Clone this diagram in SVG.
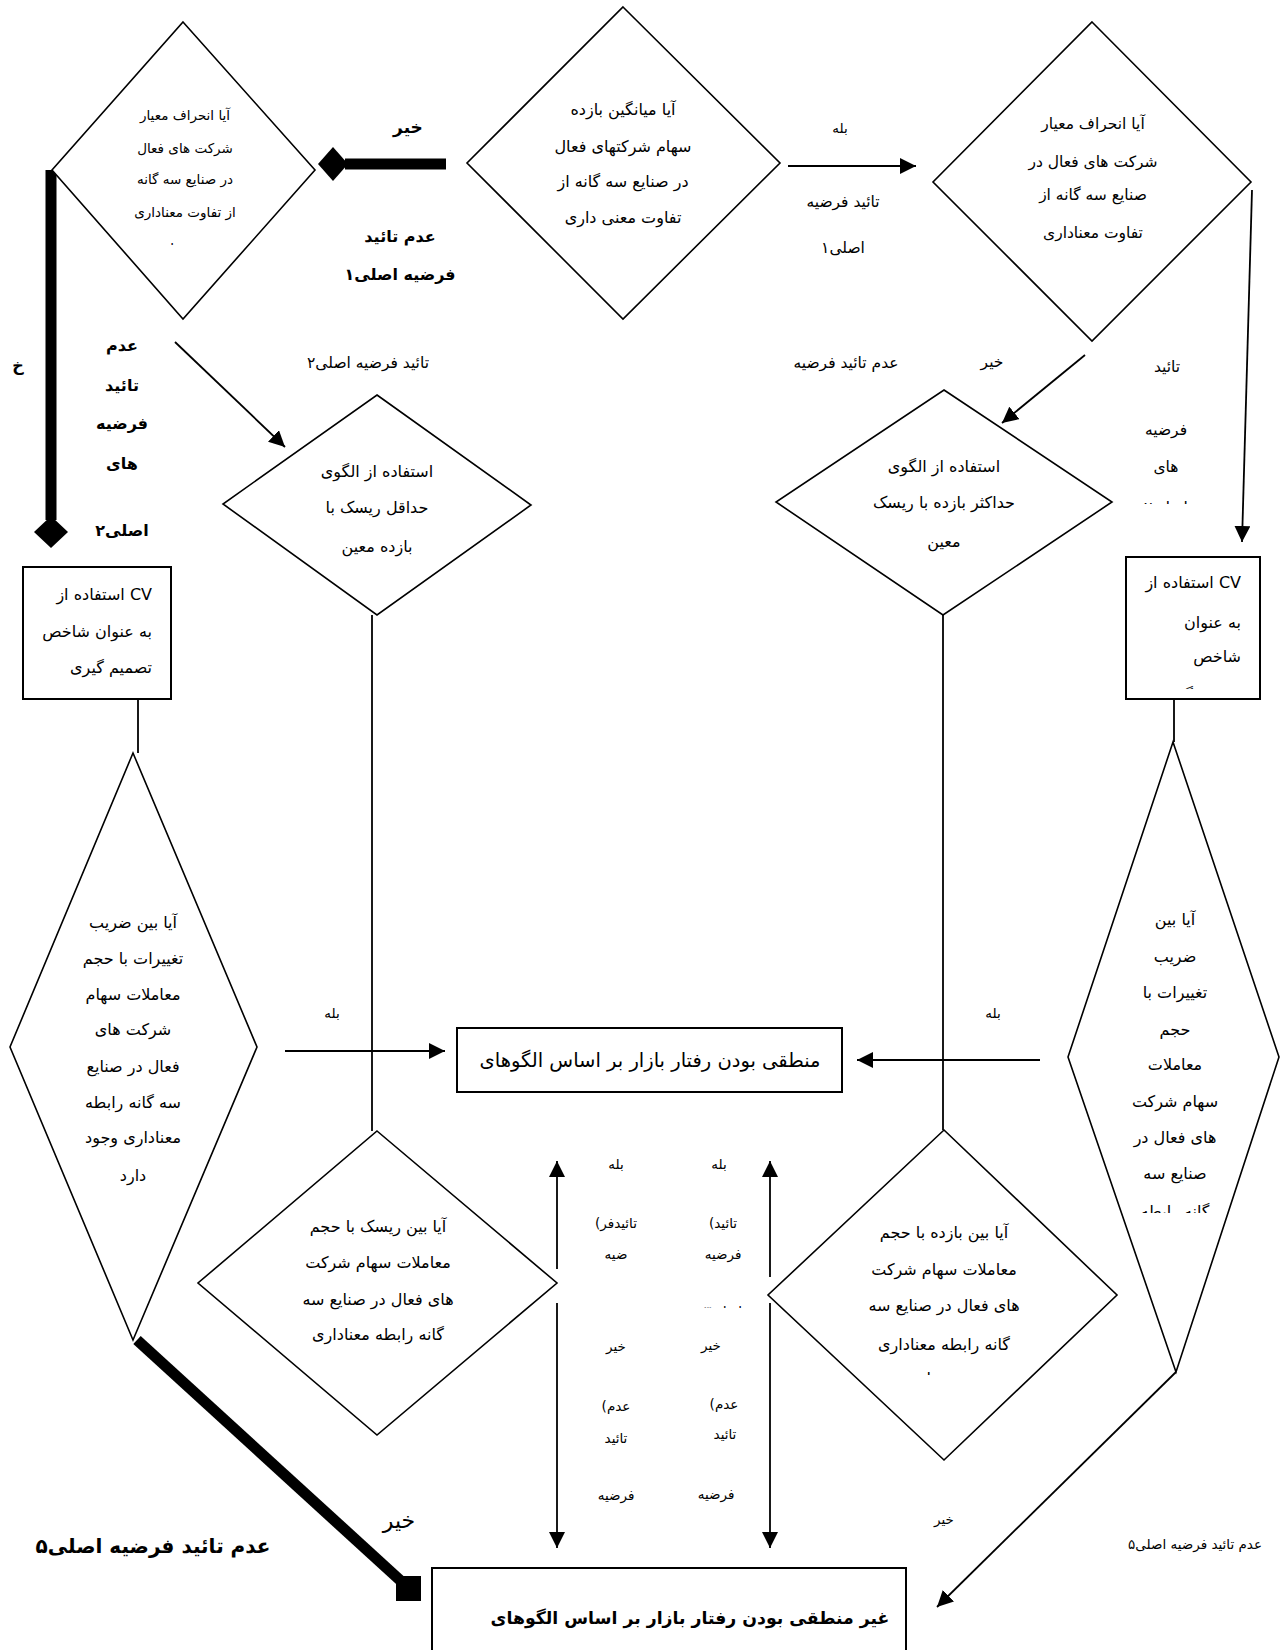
<svg xmlns="http://www.w3.org/2000/svg" width="1281" height="1650" viewBox="0 0 1281 1650">
<style>
.sh{fill:#fff;stroke:#000;stroke-width:1.6}
.bx{fill:#fff;stroke:#000;stroke-width:2}
.ln{fill:none;stroke:#000;stroke-width:1.8}
.ar{fill:none;stroke:#000;stroke-width:1.8;marker-end:url(#ah)}
.th{fill:none;stroke:#000;stroke-width:11}
text{font-family:"DejaVu Sans",sans-serif;font-size:15.5px;text-anchor:middle;fill:#000}
.d{font-size:16px}
.sm{font-size:13.5px}
.xs{font-size:13.5px}
.b{font-weight:bold;font-size:16px}
.r{text-anchor:end}
</style>
<defs>
<marker id="ah" markerUnits="userSpaceOnUse" markerWidth="17" markerHeight="16" refX="16" refY="8" orient="auto"><path d="M0,0 L16,8 L0,16 z" fill="#000"/></marker>
<clipPath id="c1"><rect x="100" y="225" width="170" height="20"/></clipPath>
<clipPath id="c2"><rect x="1120" y="485" width="100" height="19"/></clipPath>
<clipPath id="c3"><rect x="1128" y="670" width="130" height="19"/></clipPath>
<clipPath id="c4"><rect x="1100" y="1195" width="150" height="18"/></clipPath>
<clipPath id="c5"><rect x="860" y="1360" width="170" height="15"/></clipPath>
<clipPath id="c6"><rect x="680" y="1296" width="90" height="12"/></clipPath>
</defs>

<g id="connectors">
<path class="th" d="M446,164 L345,164"/>
<polygon points="318,164 333,147 348,164 333,181" fill="#000"/>
<path class="th" d="M51,170 L51,520"/>
<polygon points="34,532 51,516 68,532 51,548" fill="#000"/>
<path class="ar" d="M788,166 L916,166"/>
<path class="ar" d="M1252,190 L1242,542"/>
<path class="ar" d="M1085,355 L1002,423"/>
<path class="ar" d="M175,342 L285,447"/>
<path class="ln" d="M138,699 L138,753"/>
<path class="ln" d="M372,615 L372,1131"/>
<path class="ln" d="M943,615 L943,1130"/>
<path class="ln" d="M1174,699 L1174,742"/>
<path class="ar" d="M285,1051 L445,1051"/>
<path class="ar" d="M1040,1060 L857,1060"/>
<path class="ar" d="M557,1269 L557,1161"/>
<path class="ar" d="M770,1277 L770,1161"/>
<path class="ar" d="M557,1303 L557,1548"/>
<path class="ar" d="M770,1303 L770,1548"/>
<path class="th" d="M137,1340 L402,1582"/>
<rect x="396" y="1576" width="25" height="25" fill="#000"/>
<path class="ar" d="M1176,1372 L937,1607"/>
</g>

<g id="n-sd-left">
<polygon class="sh" points="183,22 315,170 183,319 52,170"/>
<text class="sm" x="185" y="120">آیا انحراف معیار</text>
<text class="sm" x="185" y="153">شرکت های فعال</text>
<text class="sm" x="185" y="184">در صنایع سه گانه</text>
<text class="sm" x="185" y="217">از تفاوت معناداری</text>
<text class="sm" x="185" y="253" clip-path="url(#c1)">وجود دارد</text>
</g>

<g id="n-mean">
<polygon class="sh" points="623,7 780,163 623,319 467,163"/>
<text class="d" x="623" y="115">آیا میانگین بازده</text>
<text class="d" x="623" y="152">سهام شرکتهای فعال</text>
<text class="d" x="623" y="187">در صنایع سه  گانه از</text>
<text class="d" x="623" y="223">تفاوت معنی داری</text>
</g>

<g id="n-sd-right">
<polygon class="sh" points="1092,22 1251,182 1092,341 933,182"/>
<text x="1093" y="129">آیا انحراف معیار</text>
<text x="1093" y="167">شرکت های فعال در</text>
<text x="1093" y="200">صنایع سه گانه از</text>
<text x="1093" y="238">تفاوت معناداری</text>
</g>

<g id="n-minrisk">
<polygon class="sh" points="377,395 531,505 377,615 223,504"/>
<text class="d" x="377" y="477">استفاده از الگوی</text>
<text class="d" x="377" y="513">حداقل ریسک با</text>
<text class="d" x="377" y="552">بازده معین</text>
</g>

<g id="n-maxret">
<polygon class="sh" points="944,390 1112,502 943,615 776,502"/>
<text class="d" x="944" y="472">استفاده از الگوی</text>
<text class="d" x="944" y="508">حداکثر بازده با ریسک</text>
<text class="d" x="944" y="547">معین</text>
</g>

<g id="n-cv-left">
<rect class="bx" x="23" y="567" width="148" height="132"/>
<text class="d r" x="152" y="600">استفاده از CV</text>
<text class="d r" x="152" y="637">به عنوان شاخص</text>
<text class="d r" x="152" y="673">تصمیم گیری</text>
</g>

<g id="n-cv-right">
<rect class="bx" x="1126" y="557" width="134" height="142"/>
<text class="d r" x="1241" y="588">استفاده از CV</text>
<text class="d r" x="1241" y="628">به عنوان</text>
<text class="d r" x="1241" y="662">شاخص</text>
<text class="d r" x="1241" y="700" clip-path="url(#c3)">تصمیم گیری</text>
</g>

<g id="n-cvvol-left">
<polygon class="sh" points="133,753 257,1047 133,1340 10,1047"/>
<text class="d" x="133" y="928">آیا بین ضریب</text>
<text class="d" x="133" y="964">تغییرات با حجم</text>
<text class="d" x="133" y="1000">معاملات سهام</text>
<text class="d" x="133" y="1035">شرکت های</text>
<text class="d" x="133" y="1072">فعال در صنایع</text>
<text class="d" x="133" y="1108">سه گانه رابطه</text>
<text class="d" x="133" y="1143">معناداری وجود</text>
<text class="d" x="133" y="1181">دارد</text>
</g>

<g id="n-cvvol-right">
<polygon class="sh" points="1173,742 1279,1057 1176,1372 1068,1057"/>
<text class="d" x="1175" y="925">آیا بین</text>
<text class="d" x="1175" y="962">ضریب</text>
<text class="d" x="1175" y="998">تغییرات با</text>
<text class="d" x="1175" y="1035">حجم</text>
<text class="d" x="1175" y="1070">معاملات</text>
<text class="d" x="1175" y="1107">سهام شرکت</text>
<text class="d" x="1175" y="1143">های فعال در</text>
<text class="d" x="1175" y="1179">صنایع سه</text>
<text class="d" x="1175" y="1217" clip-path="url(#c4)">گانه رابطه</text>
</g>

<g id="n-riskvol">
<polygon class="sh" points="377,1131 557,1283 377,1435 198,1283"/>
<text class="d" x="378" y="1232">آیا بین ریسک با حجم</text>
<text class="d" x="378" y="1268">معاملات سهام شرکت</text>
<text class="d" x="378" y="1305">های فعال در صنایع سه</text>
<text class="d" x="378" y="1340">گانه رابطه معناداری</text>
</g>

<g id="n-retvol">
<polygon class="sh" points="944,1130 1117,1295 944,1460 768,1295"/>
<text class="d" x="944" y="1238">آیا بین بازده با حجم</text>
<text class="d" x="944" y="1275">معاملات سهام شرکت</text>
<text class="d" x="944" y="1311">های فعال در صنایع سه</text>
<text class="d" x="944" y="1350">گانه رابطه معناداری</text>
<text class="d" x="944" y="1384" clip-path="url(#c5)">وجود دارد</text>
</g>

<g id="n-rational">
<rect class="bx" x="457" y="1028" width="385" height="64"/>
<text x="650" y="1067" style="font-size:19.5px">منطقی بودن رفتار بازار بر اساس الگوهای</text>
</g>

<g id="n-irrational">
<rect class="bx" x="432" y="1568" width="474" height="120"/>
<text x="690" y="1624" style="font-size:17.3px;font-weight:bold">غیر منطقی بودن رفتار بازار بر اساس الگوهای</text>
</g>

<g id="labels">
<text class="b" x="408" y="133" style="font-size:17px">خیر</text>
<text class="b" x="400" y="242">عدم تائید</text>
<text class="b" x="400" y="280">فرضیه اصلی۱</text>
<text x="840" y="133" class="xs">بله</text>
<text x="843" y="207">تائید فرضیه</text>
<text x="843" y="253">اصلی۱</text>
<text x="368" y="368">تائید فرضیه اصلی۲</text>
<text x="846" y="368">عدم تائید فرضیه</text>
<text x="992" y="367">خیر</text>
<text x="1167" y="372">تائید</text>
<text x="1166" y="435">فرضیه</text>
<text x="1166" y="472">های</text>
<text x="1166" y="513" clip-path="url(#c2)">اصلی۲</text>
<text class="b" x="122" y="351">عدم</text>
<text class="b" x="122" y="391">تائید</text>
<text class="b" x="122" y="429">فرضیه</text>
<text class="b" x="122" y="469">های</text>
<text class="b" x="122" y="536">اصلی۲</text>
<text class="b" x="18" y="371">خ</text>
<text x="332" y="1018" class="xs">بله</text>
<text x="993" y="1018" class="xs">بله</text>
<text class="xs" x="616" y="1169">بله</text>
<text class="xs" x="616" y="1228">(تائیدفر</text>
<text class="xs" x="616" y="1259">ضیه</text>
<text class="xs" x="616" y="1351">خیر</text>
<text class="xs" x="616" y="1411">(عدم</text>
<text class="xs" x="616" y="1443">تائید</text>
<text class="xs" x="616" y="1500">فرضیه</text>
<text class="xs" x="719" y="1169">بله</text>
<text class="xs" x="723" y="1228">(تائید</text>
<text class="xs" x="723" y="1259">فرضیه</text>
<text class="xs" x="723" y="1316" clip-path="url(#c6)">اصلی۳</text>
<text class="xs" x="711" y="1350">خیر</text>
<text class="xs" x="724" y="1409">(عدم</text>
<text class="xs" x="725" y="1439">تائید</text>
<text class="xs" x="716" y="1499">فرضیه</text>
<text x="399" y="1528" style="font-size:22px">خیر</text>
<text class="b" x="153" y="1553" style="font-size:20px">عدم تائید فرضیه اصلی۵</text>
<text x="944" y="1524" class="xs">خیر</text>
<text x="1195" y="1549" class="xs">عدم تائید فرضیه اصلی۵</text>
</g>
</svg>
